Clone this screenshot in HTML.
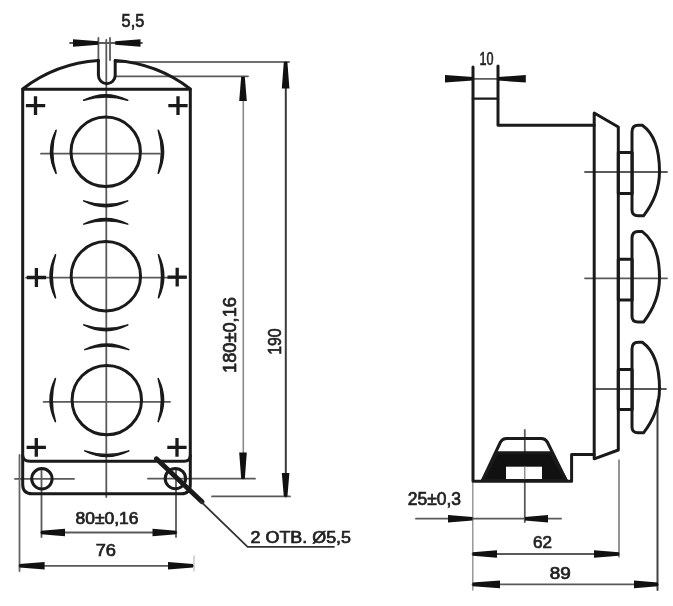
<!DOCTYPE html>
<html><head><meta charset="utf-8"><style>
html,body{margin:0;padding:0;background:#fff;width:673px;height:606px;overflow:hidden}
svg{display:block;filter:blur(0.45px)}
text{font-family:"Liberation Sans",sans-serif;fill:#222;stroke:#222;stroke-width:0.7px}
.tx{filter:blur(0.5px)}
</style></head><body>
<svg width="673" height="606" viewBox="0 0 673 606">
<g fill="none" stroke="#1a1a1a" stroke-linecap="round" stroke-linejoin="round">
<!-- thin lines -->
<g stroke="#5a5a5a" stroke-width="1.8">
<line x1="106.3" y1="40" x2="106.3" y2="497"/>
<line x1="41" y1="153.7" x2="159.8" y2="153.7"/>
<line x1="26" y1="277.7" x2="186" y2="277.7"/>
<line x1="43.6" y1="401.9" x2="170" y2="401.9"/>
<line x1="15" y1="478.9" x2="74" y2="478.9"/>
<line x1="148" y1="478.7" x2="255" y2="478.7"/>
<line x1="98.4" y1="38" x2="98.4" y2="60"/>
<line x1="110" y1="38" x2="110" y2="60"/>
<line x1="116" y1="62" x2="289" y2="62" stroke="#707070" stroke-width="2"/>
<line x1="116" y1="76.3" x2="248" y2="76.3"/>
<line x1="212" y1="496.4" x2="290" y2="496.4"/>
<line x1="243.3" y1="76.6" x2="243.3" y2="479" stroke="#8a8a8a" stroke-width="1.6"/>
<line x1="285.8" y1="62" x2="285.8" y2="496.4" stroke="#3a3a3a" stroke-width="2"/>
<line x1="41.5" y1="470" x2="41.5" y2="537"/>
<line x1="176" y1="470" x2="176" y2="537"/>
<line x1="19.5" y1="455" x2="19.5" y2="571" stroke="#666"/>
<line x1="194" y1="556" x2="194" y2="571" stroke="#aaa" stroke-width="1"/>
<line x1="70" y1="43" x2="142" y2="43"/>
<line x1="41" y1="532.5" x2="176.5" y2="532.5"/>
<line x1="19.3" y1="565.8" x2="193" y2="565.8"/>
<line x1="585" y1="172" x2="667" y2="172"/>
<line x1="585" y1="278.3" x2="667" y2="278.3"/>
<line x1="595" y1="389" x2="666" y2="389"/>
<line x1="524.8" y1="430" x2="524.8" y2="522"/>
<line x1="472.8" y1="483" x2="472.8" y2="590" stroke="#888" stroke-width="1.3"/>
<line x1="619" y1="460" x2="619" y2="557" stroke="#666" stroke-width="1.4"/>
<line x1="657.5" y1="400" x2="657.5" y2="590" stroke="#444" stroke-width="2"/>
<line x1="473" y1="78.8" x2="498" y2="78.8"/>
<line x1="416" y1="518.7" x2="561" y2="518.7"/>
<line x1="472.5" y1="554" x2="619" y2="554"/>
<line x1="472.5" y1="584.4" x2="658" y2="584.4"/>
</g>
<!-- left view body -->
<g stroke-width="3">
<path d="M22.7,89.3 L22.7,484.5 Q22.7,493.8 32,493.8 L181.5,493.8 Q190.3,493.8 190.3,484.5 L190.3,89.3 Z"/>
<path d="M22.7,89 A139.3,139.3 0 0 1 98.4,60.6 M115.2,60.6 A139.3,139.3 0 0 1 190.3,89"/>
<path d="M98.4,60.6 L98.4,75.3 A8.4,8.4 0 0 0 115.2,75.3 L115.2,60.6"/>
<path d="M22.7,455.5 Q23,461.2 30,461.2 L184,461.2 Q190.3,461.2 190.3,455.5"/>
<circle cx="105.7" cy="151.8" r="34.7"/>
<circle cx="105.85" cy="276.25" r="34.7"/>
<circle cx="106.8" cy="400.1" r="34.7"/>
<circle cx="41.9" cy="478.8" r="10.2"/>
<circle cx="175.4" cy="478.6" r="10.2"/>
</g>
<g stroke-width="3.3" stroke-linecap="butt">
<path d="M25.9,105.6h19.3M35.5,96.2v18.8"/>
<path d="M168.3,105.6h19.3M178,96.2v18.8"/>
<path d="M26.8,277.5h19.3M36.4,268.1v18.8"/>
<path d="M167.5,277.2h19.3M177.2,267.8v18.8"/>
<path d="M26.6,447.3h19.3M36.3,437.9v18.8"/>
<path d="M167.3,447.3h19.3M177,437.9v18.8"/>
</g>
<g fill="#1a1a1a" stroke="#1a1a1a" stroke-width="1.6">
<path d="M127.7,100.3 Q105.7,89.2 83.7,100.3 Q105.7,93.4 127.7,100.3Z"/>
<path d="M83.7,200.9 Q105.7,212.4 127.7,200.9 Q105.7,208.2 83.7,200.9Z"/>
<path d="M56.1,130.3 Q45,151.8 56.1,173.3 Q49.2,151.8 56.1,130.3Z"/>
<path d="M158.3,173.3 Q168.8,151.8 158.3,130.3 Q164.6,151.8 158.3,173.3Z"/>
<path d="M127.8,224.1 Q105.8,213.1 83.8,224.1 Q105.8,217.3 127.8,224.1Z"/>
<path d="M83.8,324.9 Q105.8,336.4 127.8,324.9 Q105.8,332.2 83.8,324.9Z"/>
<path d="M55.5,254.8 Q44.6,276.2 55.5,297.8 Q48.8,276.2 55.5,254.8Z"/>
<path d="M158.5,297.8 Q169,276.2 158.5,254.8 Q164.8,276.2 158.5,297.8Z"/>
<path d="M128.8,349.6 Q106.8,338.3 84.8,349.6 Q106.8,342.5 128.8,349.6Z"/>
<path d="M84.8,450.9 Q106.8,462.2 128.8,450.9 Q106.8,458 84.8,450.9Z"/>
<path d="M55.4,378.6 Q44.7,400.1 55.4,421.6 Q48.9,400.1 55.4,378.6Z"/>
<path d="M158.2,421.6 Q168.9,400.1 158.2,378.6 Q164.7,400.1 158.2,421.6Z"/>
</g>
<path d="M156.4,458.8 L202,501.7" stroke-width="5"/>
<path d="M201,501.7 L247.6,546.8 L334,546.8" stroke-width="1.8" stroke="#333"/>
<!-- right view -->
<g stroke-width="3">
<path d="M473,67 L473,481.3 L571.6,481.3 L571.6,454.5 L594.2,454.5"/>
<path d="M498,66 L498,125.3 L594.2,125.3"/>
<path d="M594.2,113 L618.3,127 L618.3,450 L594.2,458.8 Z"/>
<rect x="618.3" y="152.6" width="13.9" height="40.9"/>
<rect x="618.3" y="259.3" width="13.9" height="40.7"/>
<rect x="618.3" y="369.4" width="13.9" height="40.1"/>
<path d="M632,-39.5 Q632,-46.2 638.2,-46.2 L642.3,-46.2 C651,-40 659.5,-28 659.5,0 C659.5,22 650,36 643.5,44.3 L638,44.3 Q632,44.3 632,38.5 Z" transform="translate(0,171.5)"/>
<path d="M632,-39.5 Q632,-46.2 638.2,-46.2 L642.3,-46.2 C651,-40 659.5,-28 659.5,0 C659.5,22 650,36 643.5,44.3 L638,44.3 Q632,44.3 632,38.5 Z" transform="translate(0,277.8)"/>
<path d="M632,-39.5 Q632,-46.2 638.2,-46.2 L642.3,-46.2 C651,-40 659.5,-28 659.5,0 C659.5,22 650,36 643.5,44.3 L638,44.3 Q632,44.3 632,38.5 Z" transform="translate(0,388.5)"/>
</g>
<path d="M473,98.6 L498,98.6" stroke-width="2.4"/>
<path d="M482.3,480.6 L500.5,442 Q502.5,438.4 506.5,438.4 L541.3,438.4 Q545.3,438.4 547.3,442 L566.4,480.6" stroke-width="3"/>
<path d="M497.3,452.8 L550.8,452.8 L566.4,480.6 L482.3,480.6 Z" fill="#111" stroke-width="3"/>
<rect x="506" y="466.7" width="36" height="12.3" fill="#fff" stroke="none"/>
<line x1="524.8" y1="466.7" x2="524.8" y2="479" stroke="#777" stroke-width="1.2"/>
</g>
<g fill="#111" stroke="none">
<path d="M98.4,44.8 L73,46.8 L73,39.2 L98.4,41.2Z"/>
<path d="M115.2,41.2 L140.5,39.2 L140.5,46.8 L115.2,44.8Z"/>
<path d="M244.8,76.6 L246.8,101 L239.2,101 L241.2,76.6Z"/>
<path d="M241.2,479 L239.2,452.5 L246.8,452.5 L244.8,479Z"/>
<path d="M287.4,62 L289.4,88.5 L281.8,88.5 L283.8,62Z"/>
<path d="M283.8,496.4 L281.8,473 L289.4,473 L287.4,496.4Z"/>
<path d="M41,530.7 L65,528.7 L65,536.3 L41,534.3Z"/>
<path d="M176.5,534.3 L152.5,536.3 L152.5,528.7 L176.5,530.7Z"/>
<path d="M19.3,564 L44.6,562 L44.6,569.6 L19.3,567.6Z"/>
<path d="M193,567.6 L168,569.6 L168,562 L193,564Z"/>
<path d="M473,80.6 L445,82.6 L445,75 L473,77Z"/>
<path d="M498,77 L525.8,75 L525.8,82.6 L498,80.6Z"/>
<path d="M472.5,520.5 L448,522.5 L448,514.9 L472.5,516.9Z"/>
<path d="M524.8,516.9 L548,514.9 L548,522.5 L524.8,520.5Z"/>
<path d="M472.5,552.2 L497,550.2 L497,557.8 L472.5,555.8Z"/>
<path d="M619,555.8 L594,557.8 L594,550.2 L619,552.2Z"/>
<path d="M472.5,582.6 L500,580.6 L500,588.2 L472.5,586.2Z"/>
<path d="M658,586.2 L634,588.2 L634,580.6 L658,582.6Z"/>
</g>
<g font-size="16" class="tx">
<text x="121.6" y="27" font-size="17.5" textLength="22.6" lengthAdjust="spacingAndGlyphs">5,5</text>
<text x="479.4" y="64.8" font-size="19" textLength="14" lengthAdjust="spacingAndGlyphs">10</text>
<text x="75.5" y="523.5" textLength="63" lengthAdjust="spacingAndGlyphs">80±0,16</text>
<text x="95.7" y="556.2" textLength="20.3" lengthAdjust="spacingAndGlyphs">76</text>
<text x="250.6" y="543.3" textLength="100.4" lengthAdjust="spacingAndGlyphs">2 ОТВ. Ø5,5</text>
<text x="407.8" y="505" font-size="17.5" textLength="53.3" lengthAdjust="spacingAndGlyphs">25±0,3</text>
<text x="533" y="547.6" textLength="19" lengthAdjust="spacingAndGlyphs">62</text>
<text x="549.8" y="578.8" textLength="21" lengthAdjust="spacingAndGlyphs">89</text>
</g>
<g font-size="18.5" class="tx">
<text transform="translate(236.4,373) rotate(-90)" textLength="76" lengthAdjust="spacingAndGlyphs">180±0,16</text>
<text transform="translate(281,354.8) rotate(-90)" textLength="26.5" lengthAdjust="spacingAndGlyphs">190</text>
</g>
</svg>
</body></html>
